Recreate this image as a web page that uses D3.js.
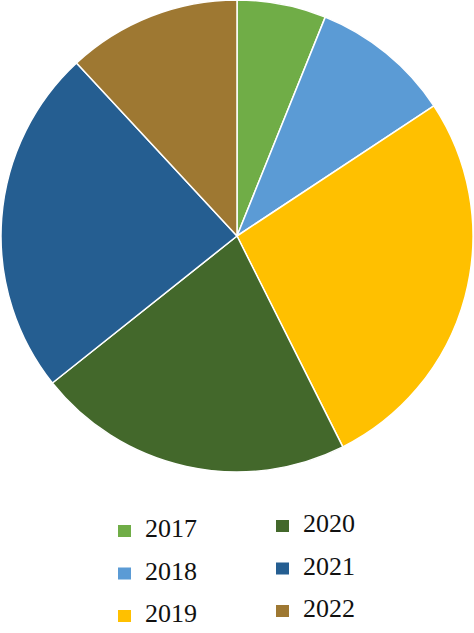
<!DOCTYPE html>
<html>
<head>
<meta charset="utf-8">
<script src="https://cdn.jsdelivr.net/npm/d3@7"></script>
<style>
  body { margin: 0; background: #fff; }
  svg { display: block; }
</style>
</head>
<body>
<svg width="474" height="633"></svg>
<script>
const width = 474
const height = 633

// share of each year (percent)
const years = ["2017", "2018", "2019", "2020", "2021", "2022"]
const values = [6.1, 9.6, 26.9, 21.7, 23.8, 11.9]
const colors = ["#70ad47", "#5b9bd5", "#ffc000", "#43682b", "#255e91", "#9e7832"]

const cx = 237, cy = 236, radius = 236

const color = d3.scaleOrdinal()
  .domain(years)
  .range(colors)

const pie = d3.pie()
  .sort(null) //keep year order, clockwise from the top
  .value((d, i) => values[i])

const arc = d3.arc()
  .innerRadius(0)
  .outerRadius(radius)

const svg = d3.select("svg")

svg.append("g")
  .attr("transform", `translate(${cx},${cy})`)
  .selectAll("path")
  .data(pie(years))
  .join("path")
  .attr("d", arc)
  .attr("fill", d => color(d.data))
  .attr("stroke", "#fff")
  .attr("stroke-width", 1.5)
  .attr("stroke-linejoin", "round")

// legend: two columns of three
const legend = svg.append("g")
  .attr("font-family", "'Liberation Serif', 'Times New Roman', serif")
  .attr("font-size", 26)
  .attr("fill", "#111")

const item = legend.selectAll("g")
  .data(years)
  .join("g")
  .attr("transform", (d, i) => {
    const col = Math.floor(i / 3)
    const row = i % 3
    const x = col === 0 ? 118 : 276
    const y = (col === 0 ? 537 : 532) + row * 42.5
    return `translate(${x},${y})`
  })

item.append("rect")
  .attr("x", 0)
  .attr("y", -12)
  .attr("width", 13)
  .attr("height", 12)
  .attr("fill", d => color(d))

item.append("text")
  .attr("x", 27)
  .attr("y", 0)
  .text(d => d)
</script>
</body>
</html>
